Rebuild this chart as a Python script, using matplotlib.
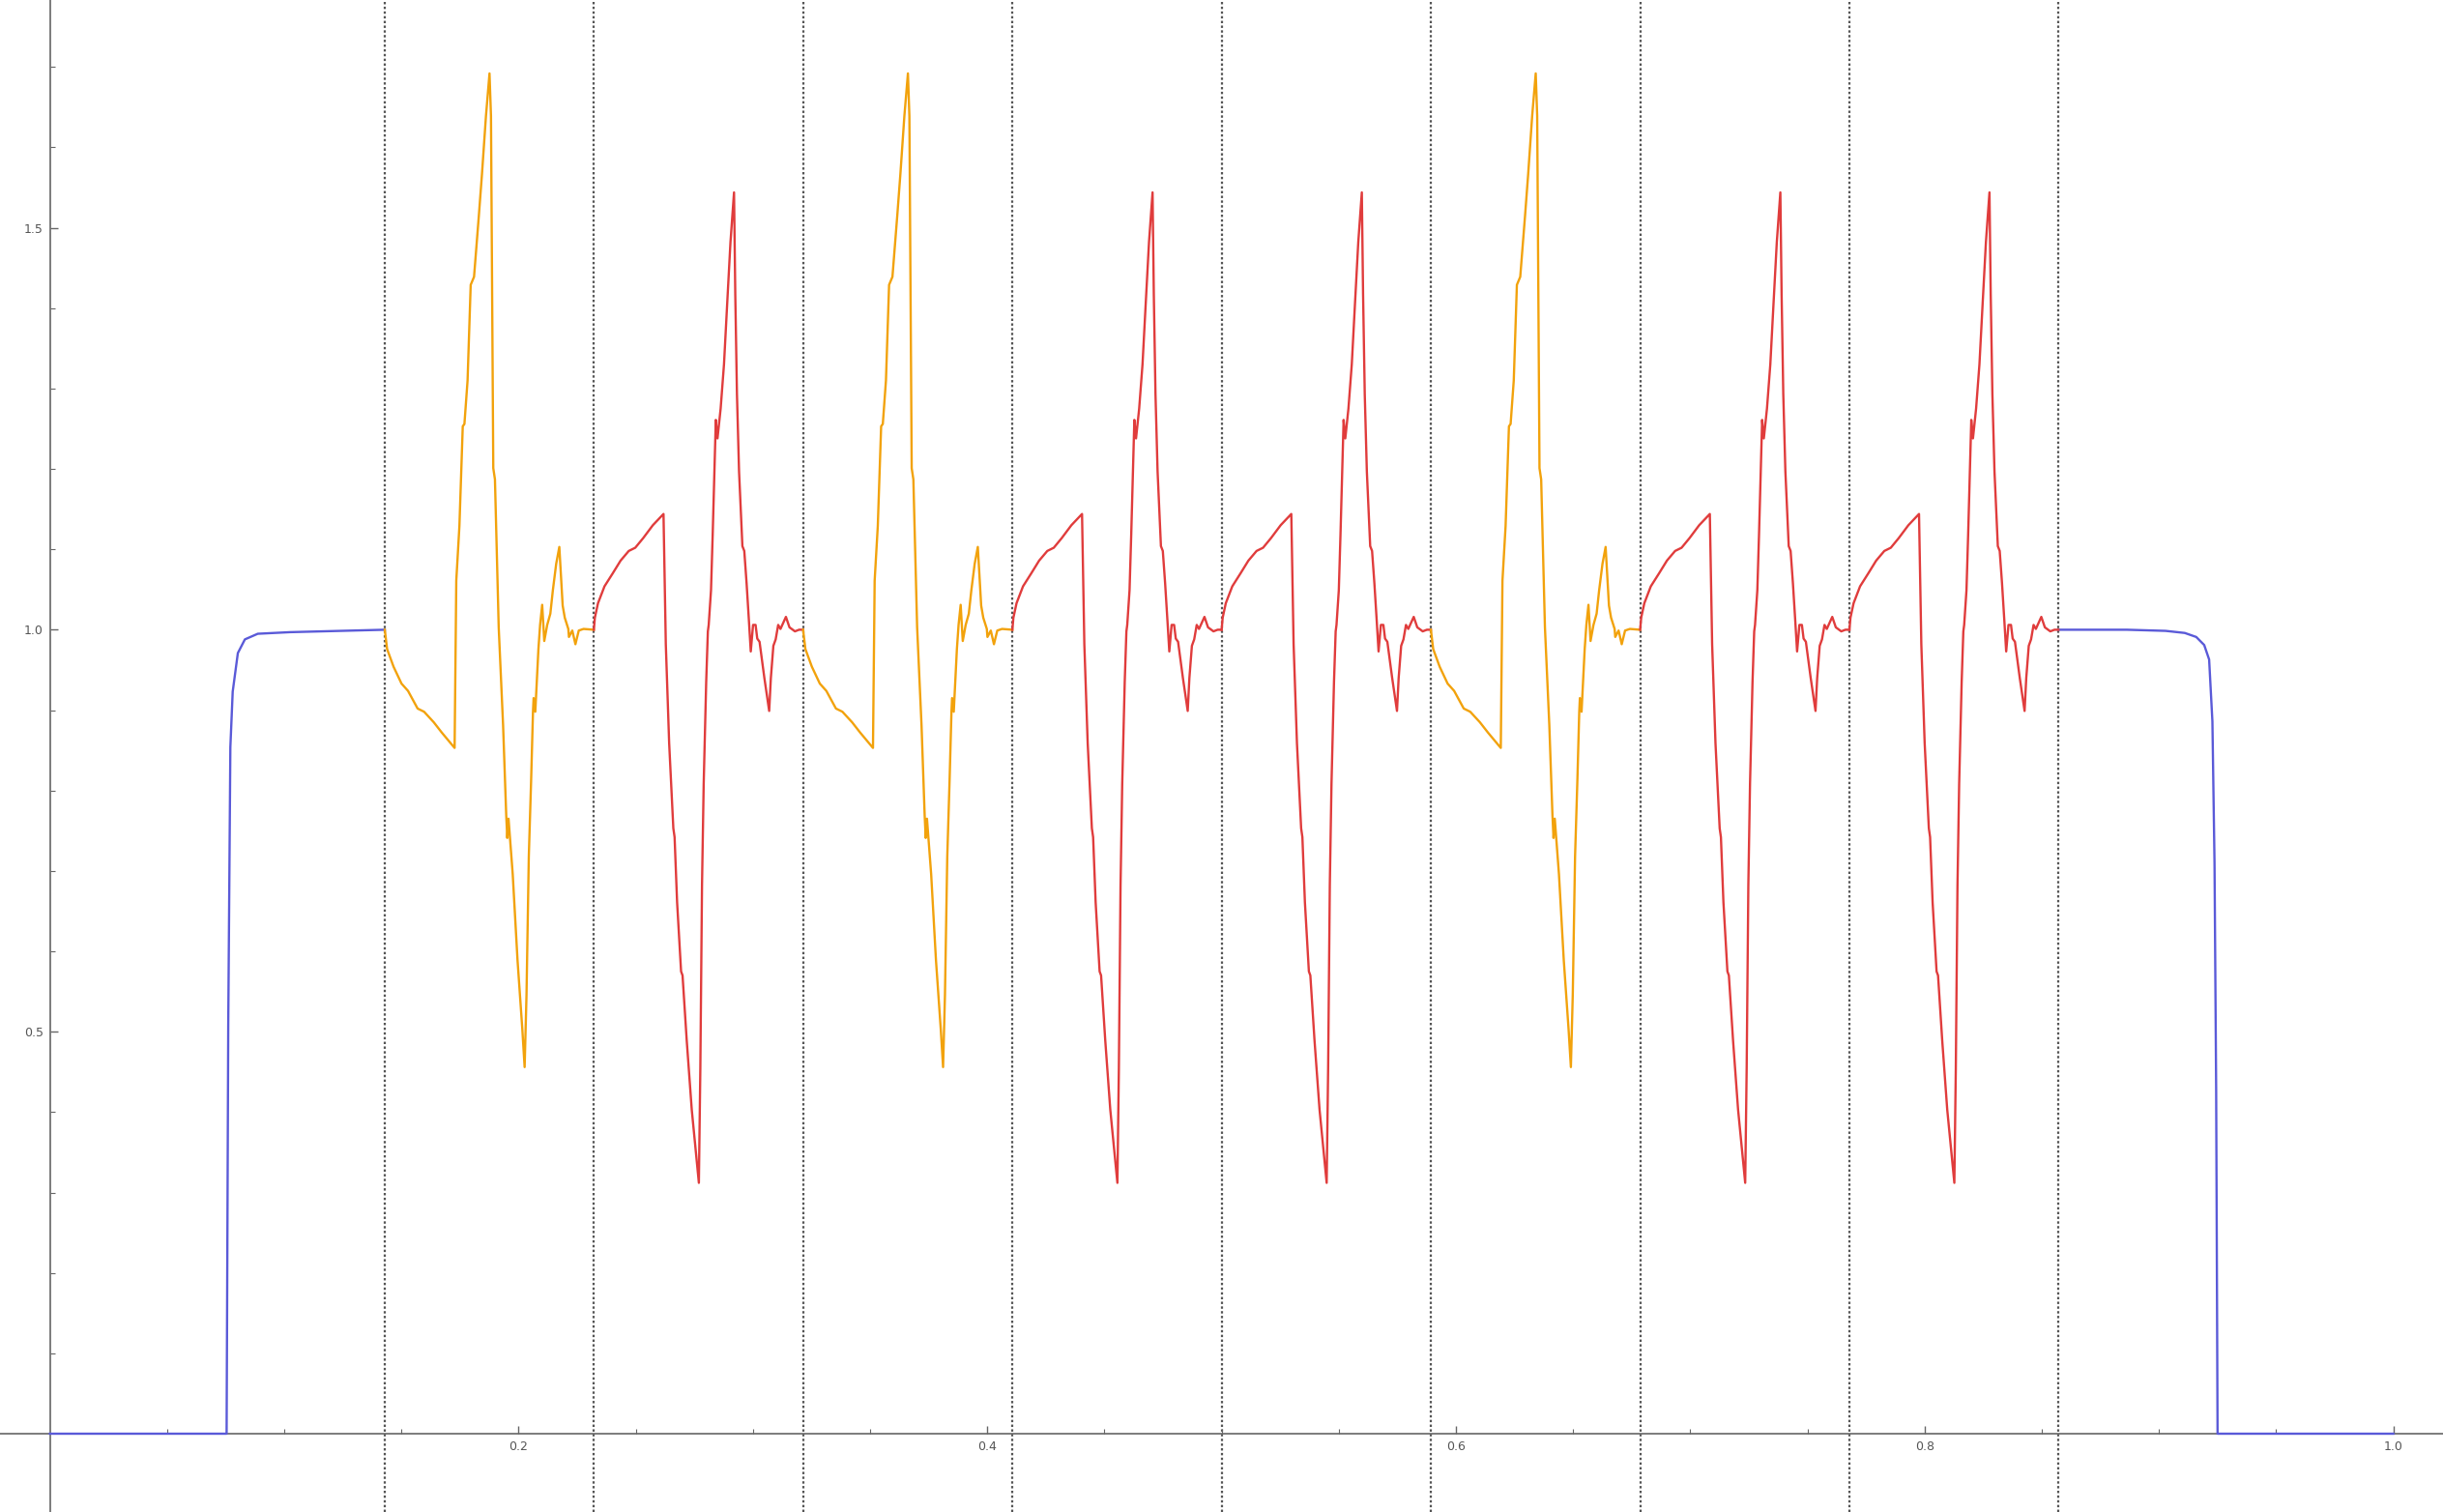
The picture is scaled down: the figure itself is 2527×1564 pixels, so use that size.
import matplotlib
matplotlib.use("Agg")
import matplotlib.pyplot as plt
from matplotlib.ticker import FixedLocator, MultipleLocator, FormatStrFormatter

# segment borders (dotted verticals) and which pulse sits in each segment
BOUNDARIES = [0.1429, 0.2321, 0.3214, 0.4107, 0.5, 0.5893, 0.6786, 0.7679, 0.8571]
SEGMENT_KIND = ["orange", "red", "orange", "red", "red", "orange", "red", "red"]

# orange pulse, t = fraction of its segment
ORANGE_T = [0.0, 0.011, 0.042, 0.080, 0.111, 0.157, 0.188, 0.234, 0.273, 0.334,
            0.342, 0.357, 0.373, 0.381, 0.396, 0.411, 0.427, 0.450, 0.465, 0.484, 0.501,
            0.508, 0.519, 0.527, 0.545, 0.566, 0.581, 0.586, 0.592, 0.612, 0.635, 0.658, 0.669,
            0.678, 0.689, 0.700, 0.709, 0.712, 0.720, 0.735, 0.743, 0.753, 0.763, 0.777,
            0.792, 0.804, 0.820, 0.835, 0.851, 0.861, 0.878, 0.881, 0.897, 0.912, 0.928,
            0.951, 1.0]
ORANGE_V = [1.0, 0.976, 0.954, 0.933, 0.924, 0.902, 0.898, 0.885, 0.872, 0.853,
            1.061, 1.129, 1.253, 1.256, 1.310, 1.429, 1.439, 1.515, 1.567, 1.639, 1.692,
            1.639, 1.201, 1.187, 1.003, 0.881, 0.769, 0.741, 0.765, 0.696, 0.589, 0.503, 0.456,
            0.546, 0.718, 0.812, 0.898, 0.915, 0.898, 0.976, 1.006, 1.031, 0.986, 1.006,
            1.020, 1.049, 1.082, 1.103, 1.030, 1.015, 1.001, 0.991, 0.999, 0.982, 0.999,
            1.001, 1.0]

# red pulse
RED_T = [0.0, 0.005, 0.020, 0.051, 0.090, 0.128, 0.167, 0.198, 0.236, 0.282, 0.333,
         0.344, 0.360, 0.380, 0.386, 0.398, 0.417, 0.424, 0.444, 0.468, 0.502,
         0.509, 0.517, 0.525, 0.537, 0.545, 0.549, 0.560, 0.568, 0.583, 0.591, 0.606,
         0.622, 0.637, 0.653, 0.670,
         0.676, 0.684, 0.694, 0.710, 0.719, 0.730, 0.741, 0.750, 0.761, 0.773, 0.781,
         0.792, 0.815, 0.838, 0.846, 0.858, 0.869, 0.881, 0.892, 0.918, 0.935, 0.961,
         0.981, 1.0]
RED_V = [1.0, 1.015, 1.033, 1.054, 1.070, 1.086, 1.098, 1.102, 1.114, 1.130, 1.144,
         0.982, 0.859, 0.753, 0.742, 0.661, 0.575, 0.570, 0.489, 0.403, 0.312,
         0.454, 0.682, 0.808, 0.935, 0.998, 1.006, 1.049, 1.118, 1.261, 1.238, 1.275,
         1.330, 1.404, 1.482, 1.544,
         1.417, 1.293, 1.197, 1.104, 1.098, 1.058, 1.012, 0.973, 1.006, 1.006, 0.989,
         0.985, 0.940, 0.899, 0.940, 0.980, 0.988, 1.006, 1.001, 1.016, 1.003, 0.998,
         1.0, 1.0]

# blue ramps at both ends
BLUE_LEFT_X = [0.0, 0.0754, 0.0761, 0.0770, 0.0780, 0.0802, 0.0832, 0.0887, 0.1026, 0.1429]
BLUE_LEFT_Y = [0.0, 0.0, 0.509, 0.854, 0.923, 0.971, 0.988, 0.995, 0.997, 1.0]
BLUE_RIGHT_X = [0.8571, 0.8863, 0.9028, 0.911, 0.9159, 0.9193, 0.9214, 0.9228, 0.9237,
                0.9244, 0.925, 1.0]
BLUE_RIGHT_Y = [1.0, 1.0, 0.9986, 0.996, 0.991, 0.981, 0.963, 0.886, 0.710, 0.428, 0.0, 0.0]

X_TICKS = [0.2, 0.4, 0.6, 0.8, 1.0]
Y_TICKS = [0.5, 1.0, 1.5]

COLORS = {"orange": "#f2a20c", "red": "#e03c3c", "blue": "#5a5ad8"}
PULSES = {"orange": (ORANGE_T, ORANGE_V), "red": (RED_T, RED_V)}
LW = 1.7

fig = plt.figure(figsize=(25.27, 15.64), dpi=100)
ax = fig.add_axes([0, 0, 1, 1])
ax.set_xlim(-0.0213, 1.0212)
ax.set_ylim(-0.0974, 1.7833)

for x in BOUNDARIES:
    ax.axvline(x, color="#555555", lw=1.6, ls=(0, (1.1, 1.1)), zorder=1)

ax.plot(BLUE_LEFT_X, BLUE_LEFT_Y, color=COLORS["blue"], lw=LW, zorder=3)
ax.plot(BLUE_RIGHT_X, BLUE_RIGHT_Y, color=COLORS["blue"], lw=LW, zorder=3)

for i, kind in enumerate(SEGMENT_KIND):
    x0, x1 = BOUNDARIES[i], BOUNDARIES[i + 1]
    ts, vs = PULSES[kind]
    xs = [x0 + t * (x1 - x0) for t in ts]
    ax.plot(xs, vs, color=COLORS[kind], lw=LW, zorder=3)

# axes through the origin, Mathematica style
for side in ("top", "right"):
    ax.spines[side].set_visible(False)
ax.spines["left"].set_position(("data", 0))
ax.spines["bottom"].set_position(("data", 0))
for side in ("left", "bottom"):
    ax.spines[side].set_color("#666666")
    ax.spines[side].set_linewidth(1.2)
    ax.spines[side].set_zorder(2)

ax.xaxis.set_major_locator(FixedLocator(X_TICKS))
ax.xaxis.set_minor_locator(FixedLocator([k * 0.05 for k in range(1, 21)]))
ax.yaxis.set_major_locator(FixedLocator(Y_TICKS))
ax.yaxis.set_minor_locator(FixedLocator([k * 0.1 for k in range(1, 18)]))
ax.xaxis.set_major_formatter(FormatStrFormatter("%.1f"))
ax.yaxis.set_major_formatter(FormatStrFormatter("%.1f"))
ax.tick_params(which="major", direction="in", length=6, width=1.0, color="#666666",
               labelsize=9, labelcolor="#555555", pad=5)
ax.tick_params(which="minor", direction="in", length=3.5, width=0.8, color="#666666")

fig.savefig("out.png", dpi=100)
